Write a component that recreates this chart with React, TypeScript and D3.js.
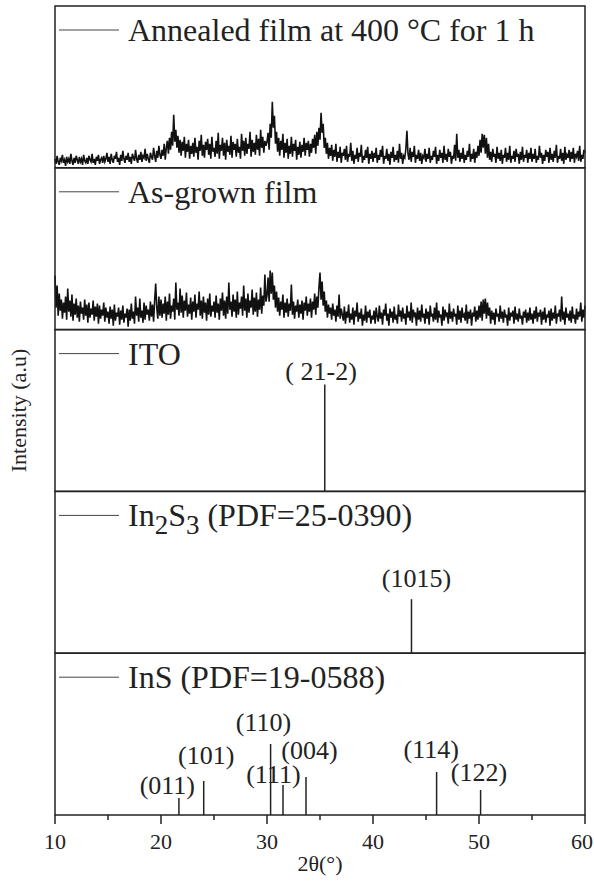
import React from "react";
import * as d3 from "d3";

// 2θ grid of the measured scans: 10.0 .. 60.0 step 0.1
const scanStart = 10;
const scanStep = 0.1;

// Annealed film at 400 °C for 1 h (intensity, a.u.)
const annealed = [
  9,4,12,6,3,10,7,13,5,8,2,11,6,9,4,14,7,3,10,5,12,8,4,11,6,9,3,13,7,5,10,4,12,8,6,14,5,9,3,11,7,13,4,8,10,5,12,6,9,15,
  6,11,4,14,8,5,12,9,16,6,10,3,13,7,17,9,5,12,8,15,6,11,4,14,10,7,18,9,5,13,8,16,6,12,10,19,7,14,9,5,15,11,8,20,12,6,17,10,22,13,
  9,18,12,24,8,20,27,14,30,18,36,22,53,26,38,20,32,15,28,12,26,17,31,10,24,16,28,9,22,14,25,11,30,15,21,8,27,17,33,12,23,10,26,18,29,13,24,9,31,16,
  20,11,27,14,35,9,23,17,30,12,25,8,28,16,22,13,32,10,26,18,24,11,29,15,21,9,34,17,27,12,30,14,24,19,36,11,28,16,25,13,33,18,29,12,38,20,31,15,27,22,
  26,35,18,44,30,66,40,52,24,36,16,30,12,27,18,34,10,25,15,29,9,22,14,31,11,24,17,28,8,21,13,26,10,23,16,30,12,25,18,27,11,24,15,29,20,33,14,36,22,40,
  28,55,35,44,20,30,14,25,9,20,12,23,7,18,11,24,6,16,10,21,5,15,12,19,8,22,6,14,11,25,7,17,4,13,9,20,6,15,11,23,5,12,8,18,10,21,4,14,9,17,
  6,15,10,20,5,13,8,18,11,22,4,12,9,19,7,14,3,16,10,21,6,13,8,17,5,24,9,15,4,12,10,19,37,14,8,20,6,16,11,22,5,13,9,18,7,15,4,12,10,19,
  6,14,9,20,5,12,8,17,11,21,4,13,7,18,10,15,5,22,8,14,6,19,11,16,4,12,9,23,7,34,10,18,6,15,9,20,5,13,8,17,11,24,6,14,9,19,5,16,10,22,
  12,28,15,34,20,33,14,30,10,24,8,16,6,19,11,14,5,21,9,15,7,18,4,13,10,20,6,15,8,22,5,12,9,17,6,19,11,14,4,16,8,21,6,13,10,18,5,15,9,20,
  6,14,9,19,5,12,8,22,10,15,4,13,7,18,11,16,5,20,8,14,6,17,10,23,5,12,9,19,7,15,4,21,8,13,10,18,6,16,9,20,5,14,11,17,7,22,6,13,9,18,
  15,
];

// As-grown film (intensity, a.u.)
const asGrown = [
  54,22,44,14,36,19,30,11,27,17,33,10,41,18,29,13,35,9,26,15,31,12,24,8,28,16,22,10,30,14,25,7,27,12,21,15,29,9,23,13,26,6,24,11,20,14,27,8,22,12,
  18,6,23,11,20,4,25,9,17,13,22,5,19,10,24,7,16,12,21,3,20,9,26,11,18,6,33,14,22,8,31,12,19,7,27,10,24,15,20,9,28,13,25,8,29,46,22,11,33,14,
  30,12,26,16,33,9,28,15,36,11,24,18,31,10,47,20,27,14,41,17,34,12,29,19,37,13,25,16,32,10,28,18,35,12,26,20,38,14,29,11,33,17,27,9,31,15,36,13,24,18,
  28,12,34,17,26,10,31,19,37,14,29,11,33,16,47,20,28,13,35,18,30,12,38,15,27,21,33,14,44,19,31,12,36,17,29,22,40,15,32,18,37,13,30,20,42,16,34,24,55,28,
  34,52,28,59,36,57,30,44,22,38,18,32,14,28,20,35,12,27,17,31,13,26,19,45,15,28,11,24,18,30,12,25,16,29,10,27,19,33,14,26,18,31,12,28,20,36,15,33,22,42,
  57,30,48,24,38,18,29,12,25,16,22,10,26,14,20,8,24,13,35,11,21,15,9,23,6,18,12,25,7,16,10,22,5,19,13,27,8,17,11,21,4,15,9,24,7,18,12,20,6,14,
  10,19,6,22,13,8,24,11,17,5,20,14,26,9,16,4,21,12,18,7,23,10,15,6,25,13,19,8,22,11,16,5,24,12,18,9,27,7,20,14,17,4,22,10,19,8,25,12,16,6,
  21,11,18,5,24,13,16,8,22,10,27,7,19,12,15,4,23,9,20,14,17,6,26,11,18,8,21,13,16,5,24,10,19,7,22,12,15,9,25,6,18,11,20,4,17,13,23,8,19,10,
  24,12,28,9,30,16,31,11,27,14,22,6,19,10,17,5,21,13,16,8,24,11,18,7,20,12,15,4,22,9,17,13,19,6,23,10,16,8,21,11,14,5,18,12,20,7,17,9,22,10,
  16,6,19,11,23,8,17,13,20,5,18,10,22,7,15,12,19,4,21,9,17,11,24,6,16,13,20,8,33,10,18,5,22,12,16,9,19,7,23,11,15,6,21,10,18,13,27,8,20,12,
  24,
];

// Reference patterns (stick positions, heights, labels)
const itoPos = [35.45];
const itoHeight = [107];
const itoLabels = ["( 21-2)"];
const itoLabelPos = [[35.1, 111]];

const in2s3Pos = [43.63];
const in2s3Height = [54];
const in2s3Labels = ["(1015)"];
const in2s3LabelPos = [[44.1, 66]];

const insPos = [21.69, 24.03, 30.34, 31.51, 33.68, 46.0, 50.15];
const insHeight = [17, 34, 71, 30, 38, 43, 25];
const insLabels = ["(011)", "(101)", "(110)", "(111)", "(004)", "(114)", "(122)"];
const insLabelPos = [[20.6, 21], [24.26, 51], [29.67, 84], [30.6, 32], [34.0, 56], [45.5, 57], [50.0, 34]];

const xTicks = [10, 20, 30, 40, 50, 60];
const xMinorTicks = [15, 25, 35, 45, 55];

const FONT = "'Times New Roman', 'Liberation Serif', serif";

export default function App() {
  const W = 594, H = 883;
  const left = 55, right = 585, top = 6, bottom = 815;
  const nPanels = 5;
  const ph = (bottom - top) / nPanels;
  const x = d3.scaleLinear().domain([10, 60]).range([left, right]);
  const panelTop = (i: number) => top + i * ph;
  const yScale = (i: number) =>
    d3.scaleLinear().domain([0, ph]).range([panelTop(i) + ph, panelTop(i)]);

  const scanLine = (vals: number[], i: number) => {
    const y = yScale(i);
    return d3
      .line<number>()
      .x((_, k) => x(scanStart + k * scanStep))
      .y((v) => y(v))(vals) as string;
  };

  const legend = (i: number, content: React.ReactNode) => {
    const t = panelTop(i);
    return (
      <g>
        <line x1={59} x2={119} y1={t + 24} y2={t + 24} stroke="#444" strokeWidth={1} />
        <text x={128} y={t + 35} fontSize={32} fontFamily={FONT} fill="#222">
          {content}
        </text>
      </g>
    );
  };

  const sticks = (
    i: number,
    pos: number[],
    hts: number[],
    labels: string[],
    lpos: number[][]
  ) => {
    const y = yScale(i);
    return (
      <g>
        {pos.map((p, k) => (
          <line
            key={"s" + k}
            x1={x(p)}
            x2={x(p)}
            y1={y(0)}
            y2={y(hts[k])}
            stroke="#222"
            strokeWidth={1.5}
          />
        ))}
        {labels.map((l, k) => (
          <text
            key={"l" + k}
            x={x(lpos[k][0])}
            y={y(lpos[k][1])}
            textAnchor="middle"
            fontSize={26}
            fontFamily={FONT}
            fill="#222"
          >
            {l}
          </text>
        ))}
      </g>
    );
  };

  return (
    <svg width={W} height={H} style={{ position: "absolute", left: 0, top: 0 }}>
      <rect x={0} y={0} width={W} height={H} fill="#fff" />
      <path d={scanLine(annealed, 0)} fill="none" stroke="#111" strokeWidth={1.6} strokeLinejoin="miter" />
      <path d={scanLine(asGrown, 1)} fill="none" stroke="#111" strokeWidth={1.6} strokeLinejoin="miter" />
      {sticks(2, itoPos, itoHeight, itoLabels, itoLabelPos)}
      {sticks(3, in2s3Pos, in2s3Height, in2s3Labels, in2s3LabelPos)}
      {sticks(4, insPos, insHeight, insLabels, insLabelPos)}

      {d3.range(nPanels).map((i) => (
        <rect
          key={i}
          x={left}
          y={panelTop(i)}
          width={right - left}
          height={ph}
          fill="none"
          stroke="#222"
          strokeWidth={1.5}
        />
      ))}

      {legend(0, "Annealed film at 400 °C for 1 h")}
      {legend(1, "As-grown film")}
      {legend(2, "ITO")}
      {legend(
        3,
        <>
          <tspan>In</tspan>
          <tspan dy={8} fontSize={27}>2</tspan>
          <tspan dy={-8}>S</tspan>
          <tspan dy={8} fontSize={27}>3</tspan>
          <tspan dy={-8}> (PDF=25-0390)</tspan>
        </>
      )}
      {legend(4, "InS (PDF=19-0588)")}

      {xTicks.map((t) => (
        <g key={"t" + t}>
          <line x1={x(t)} x2={x(t)} y1={bottom} y2={bottom + 9} stroke="#222" strokeWidth={1.5} />
          <text x={Math.min(x(t), W - 12)} y={bottom + 34} textAnchor="middle" fontSize={22} fontFamily={FONT} fill="#222">
            {t}
          </text>
        </g>
      ))}
      {xMinorTicks.map((t) => (
        <line key={"m" + t} x1={x(t)} x2={x(t)} y1={bottom} y2={bottom + 5} stroke="#222" strokeWidth={1.5} />
      ))}
      <text x={(left + right) / 2} y={bottom + 56} textAnchor="middle" fontSize={22} fontFamily={FONT} fill="#222">
        2θ(°)
      </text>
      <text
        transform={`translate(26, ${(top + bottom) / 2}) rotate(-90)`}
        textAnchor="middle"
        fontSize={22}
        fontFamily={FONT}
        fill="#222"
      >
        Intensity (a.u)
      </text>
    </svg>
  );
}
